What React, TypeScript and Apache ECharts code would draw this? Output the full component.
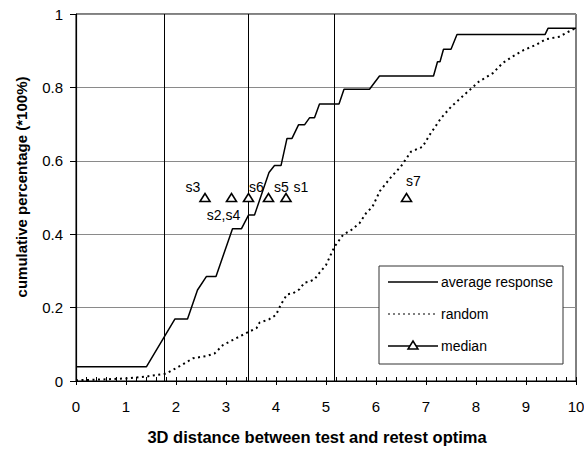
import React, { useEffect, useRef } from "react";
import * as echarts from "echarts";

const avgResponse: [number, number][] = [
  [0, 0.039], [1.41, 0.039], [1.98, 0.169], [2.23, 0.169], [2.43, 0.248], [2.61, 0.285],
  [2.8, 0.285], [3.13, 0.415], [3.31, 0.415], [3.45, 0.452], [3.57, 0.452], [3.86, 0.568],
  [3.97, 0.587], [4.1, 0.587], [4.22, 0.661], [4.32, 0.661], [4.45, 0.698], [4.57, 0.698],
  [4.67, 0.717], [4.77, 0.717], [4.87, 0.755], [5.26, 0.755], [5.36, 0.795], [5.87, 0.795],
  [6.07, 0.831], [7.15, 0.831], [7.23, 0.87], [7.28, 0.87], [7.35, 0.904], [7.5, 0.904],
  [7.62, 0.944], [9.38, 0.944], [9.44, 0.961], [10, 0.961],
];

const randomCurve: [number, number][] = [
  [0, 0.002], [0.5, 0.004], [1.0, 0.007], [1.4, 0.012], [1.8, 0.02], [2.08, 0.041],
  [2.34, 0.062], [2.61, 0.068], [2.77, 0.075], [2.94, 0.098], [3.14, 0.112], [3.44, 0.133],
  [3.61, 0.144], [3.67, 0.159], [3.86, 0.168], [4.0, 0.18], [4.1, 0.209], [4.22, 0.236],
  [4.34, 0.239], [4.47, 0.25], [4.57, 0.268], [4.67, 0.271], [4.77, 0.277], [4.87, 0.295],
  [5.0, 0.316], [5.17, 0.366], [5.34, 0.398], [5.5, 0.411], [5.67, 0.43], [5.8, 0.457],
  [5.93, 0.475], [6.08, 0.518], [6.31, 0.557], [6.5, 0.585], [6.7, 0.625], [6.93, 0.638],
  [7.07, 0.67], [7.3, 0.716], [7.5, 0.747], [7.8, 0.784], [8.06, 0.816], [8.33, 0.838],
  [8.53, 0.866], [8.73, 0.884], [8.96, 0.902], [9.2, 0.916], [9.39, 0.931], [9.66, 0.938],
  [9.91, 0.956], [10, 0.962],
];

const medianNames = ["s3", "s2,s4", "s6", "s5", "s1", "s7"];
const medianX = [2.58, 3.11, 3.45, 3.85, 4.2, 6.61];
const medianY = [0.5, 0.5, 0.5, 0.5, 0.5, 0.5];
const medianLabelOffsets: [number, number][] = [
  [-12, -11], [-8, 17], [8, -11], [13, -11], [15, -11], [7, -17],
];

const thresholdLines = [1.76, 3.45, 5.17];
const xTicks = [0, 10];
const yTicks = [0, 1];

const FONT = "'Liberation Sans', Arial, Helvetica, sans-serif";

export default function App() {
  const ref = useRef<HTMLDivElement>(null);
  useEffect(() => {
    document.body.style.margin = "0";
    const chart = echarts.init(ref.current!, null, { renderer: "svg" });
    const legendX = 379;
    const legendY = 266;
    const rows = [282, 314, 346];
    const option: any = {
      animation: false,
      backgroundColor: "#fff",
      textStyle: { fontFamily: FONT },
      grid: {
        left: 76, right: 8, top: 14, bottom: 69,
        outerBoundsMode: "none", containLabel: false,
        show: true, borderColor: "#000", borderWidth: 1, backgroundColor: "transparent",
      },
      xAxis: [
        {
          type: "value", min: xTicks[0], max: xTicks[1], interval: 1,
          axisLine: { show: true, onZero: false, lineStyle: { color: "#000", width: 1.2 } },
          axisTick: { show: true, inside: false, length: 4, lineStyle: { color: "#000" } },
          axisLabel: { color: "#000", fontSize: 15, margin: 18, fontFamily: FONT },
          splitLine: { show: false },
        },
        {
          type: "value", min: xTicks[0], max: xTicks[1], interval: 1, position: "bottom",
          axisLine: { show: false, onZero: false },
          axisTick: { show: true, inside: true, length: 4, lineStyle: { color: "#000" } },
          minorTick: { show: true, splitNumber: 5, length: 4, lineStyle: { color: "#000" } },
          axisLabel: { show: false },
          splitLine: { show: false },
        },
      ],
      yAxis: {
        type: "value", min: yTicks[0], max: yTicks[1], interval: 0.2,
        axisLine: { show: true, onZero: false, lineStyle: { color: "#000", width: 1.2 } },
        axisTick: { show: true, inside: false, length: 6, lineStyle: { color: "#000" } },
        axisLabel: { color: "#000", fontSize: 15, margin: 13, fontFamily: FONT },
        splitLine: { show: true, lineStyle: { color: "#8a8a8a", width: 1 } },
      },
      series: [
        {
          name: "random", type: "line", data: randomCurve, showSymbol: false, symbol: "none",
          lineStyle: { color: "#000", width: 2, type: [2, 3.5] }, z: 3,
        },
        {
          name: "average response", type: "line", data: avgResponse, showSymbol: false, symbol: "none",
          lineStyle: { color: "#000", width: 1.5 }, z: 4,
          markLine: {
            silent: true, symbol: "none", label: { show: false },
            lineStyle: { color: "#000", width: 1, type: "solid" },
            data: thresholdLines.map((v) => ({ xAxis: v })),
          },
        },
        {
          name: "median", type: "scatter", symbol: "triangle", symbolSize: [10, 8],
          itemStyle: { color: "#fff", borderColor: "#000", borderWidth: 1.6, opacity: 1 }, z: 5,
          data: medianX.map((x, i) => ({
            value: [x, medianY[i]],
            name: medianNames[i],
            label: {
              show: true, position: "inside", offset: medianLabelOffsets[i],
              formatter: medianNames[i], color: "#000", fontSize: 14, fontFamily: FONT,
              textBorderWidth: 0, textShadowBlur: 0, opacity: 1,
            },
          })),
        },
      ],
      graphic: [
        {
          type: "text", x: 21, y: 187, rotation: Math.PI / 2, z: 10,
          style: {
            text: "cumulative percentage (*100%)", fill: "#000",
            font: `bold 15px ${FONT}`, textAlign: "center", textVerticalAlign: "middle",
          },
        },
        {
          type: "text", x: 317, y: 437, z: 10,
          style: {
            text: "3D distance between test and retest optima", fill: "#000",
            font: `bold 16.5px ${FONT}`, textAlign: "center", textVerticalAlign: "middle",
          },
        },
        {
          type: "rect", z: 20, shape: { x: legendX, y: legendY, width: 184, height: 98 },
          style: { fill: "#fff", stroke: "#333", lineWidth: 1 },
        },
        {
          type: "line", z: 21, shape: { x1: 388, y1: rows[0], x2: 438, y2: rows[0] },
          style: { stroke: "#000", lineWidth: 1.5 },
        },
        {
          type: "line", z: 21, shape: { x1: 388, y1: rows[1], x2: 438, y2: rows[1] },
          style: { stroke: "#000", lineWidth: 1.2, lineDash: [2, 3] },
        },
        {
          type: "line", z: 21, shape: { x1: 388, y1: rows[2], x2: 438, y2: rows[2] },
          style: { stroke: "#000", lineWidth: 1.5 },
        },
        {
          type: "polygon", z: 22,
          shape: { points: [[413, rows[2] - 5], [418, rows[2] + 3], [408, rows[2] + 3]] },
          style: { fill: "#fff", stroke: "#000", lineWidth: 1.5 },
        },
        ...["average response", "random", "median"].map((t, i) => ({
          type: "text", z: 22, x: 441, y: rows[i],
          style: { text: t, fill: "#000", font: `14px ${FONT}`, textAlign: "left", textVerticalAlign: "middle" },
        })),
      ],
    };
    chart.setOption(option);
    return () => chart.dispose();
  }, []);
  return <div ref={ref} style={{ width: 584, height: 450 }} />;
}
